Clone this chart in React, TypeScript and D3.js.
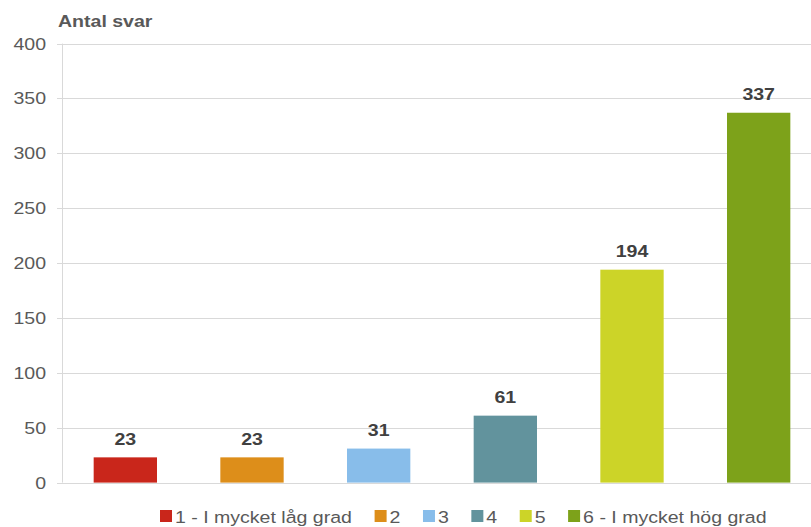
import React, { useMemo } from 'react';
import * as d3 from 'd3';

// Answer categories, counts and colours
const categories = ['1 - I mycket låg grad', '2', '3', '4', '5', '6 - I mycket hög grad'];
const counts = [23, 23, 31, 61, 194, 337];
const barColors = ['#C9261B', '#DD8E1A', '#88BDEA', '#62939D', '#CCD428', '#7DA21A'];
const yTicks = [0, 50, 100, 150, 200, 250, 300, 350, 400];
const yTitle = 'Antal svar';

const W = 811;
const H = 527;
const FONT = "'Liberation Sans', Arial, sans-serif";
const FS = 17;
const SX = 1.15; // horizontal text stretch

export default function App() {
  const x = d3.scaleBand<string>().domain(categories).range([62, 822]).paddingInner(0.5).paddingOuter(0.25);
  const y = d3.scaleLinear().domain([0, 400]).range([482.6, 43.6]);

  // legend layout from measured text widths
  const legendItems = useMemo(() => {
    const ctx = document.createElement('canvas').getContext('2d');
    let cx = 160;
    return categories.map((c, i) => {
      let w = c.length * 9;
      if (ctx) {
        ctx.font = `${FS}px ${FONT}`;
        w = ctx.measureText(c).width * SX;
      }
      const item = { label: c, color: barColors[i], x: cx };
      cx += 15 + w + 22.5;
      return item;
    });
  }, []);

  return (
    <svg width={W} height={H} style={{ position: 'absolute', left: 0, top: 0, display: 'block', background: '#fff' }}>
      <g>
        {yTicks.map((t) => (
          <g key={t}>
            <line x1={57} x2={W} y1={Math.round(y(t)) + 0.5} y2={Math.round(y(t)) + 0.5} stroke="#D9D9D9" strokeWidth={1} />
            <text
              transform={`translate(46,${y(t) + 6}) scale(${SX},1)`}
              textAnchor="end"
              fontFamily={FONT}
              fontSize={FS}
              fill="#595959"
            >
              {t}
            </text>
          </g>
        ))}
        <line x1={62.5} x2={62.5} y1={y(400)} y2={y(0)} stroke="#D9D9D9" strokeWidth={1} />
      </g>

      <text
        transform={`translate(58,26.5) scale(${SX},1)`}
        fontFamily={FONT}
        fontSize={FS}
        fontWeight="bold"
        fill="#595959"
      >
        {yTitle}
      </text>

      {categories.map((c, i) => {
        const bx = x(c) as number;
        const by = y(counts[i]);
        return (
          <g key={c}>
            <rect x={bx} y={by} width={x.bandwidth()} height={y(0) - by} fill={barColors[i]} />
            <text
              transform={`translate(${bx + x.bandwidth() / 2},${by - 12.5}) scale(${SX},1)`}
              textAnchor="middle"
              fontFamily={FONT}
              fontSize={FS}
              fontWeight="bold"
              fill="#404040"
            >
              {counts[i]}
            </text>
          </g>
        );
      })}

      <g>
        {legendItems.map((it) => (
          <g key={it.label}>
            <rect x={it.x} y={510} width={12} height={12} fill={it.color} />
            <text
              transform={`translate(${it.x + 15},522.5) scale(${SX},1)`}
              fontFamily={FONT}
              fontSize={FS}
              fill="#595959"
            >
              {it.label}
            </text>
          </g>
        ))}
      </g>
    </svg>
  );
}
